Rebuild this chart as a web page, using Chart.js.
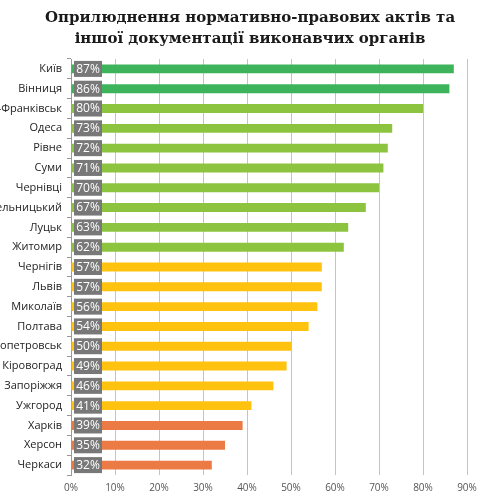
<!DOCTYPE html>
<html><head><meta charset="utf-8">
<script src="https://cdn.jsdelivr.net/npm/chart.js@4/dist/chart.umd.min.js"></script>
<style>html,body{margin:0;padding:0;background:#fff}#w{width:500px;height:500px}</style>
</head><body><div id="w"><canvas id="c"></canvas></div>
<script>
const titleLines = ['Оприлюднення нормативно-правових актів та', 'іншої документації виконавчих органів'];
const cities = ['Київ','Вінниця','Івано-Франківськ','Одеса','Рівне','Суми','Чернівці','Хмельницький','Луцьк','Житомир','Чернігів','Львів','Миколаїв','Полтава','Дніпропетровськ','Кіровоград','Запоріжжя','Ужгород','Харків','Херсон','Черкаси'];
const values = [87,86,80,73,72,71,70,67,63,62,57,57,56,54,50,49,46,41,39,35,32];
const tiers = ['top','top','high','high','high','high','high','high','high','high','mid','mid','mid','mid','mid','mid','mid','mid','low','low','low'];
const xTicks = [0,10,20,30,40,50,60,70,80,90];

const tierColors = {top:'#3db45c', high:'#8cc43f', mid:'#ffc20e', low:'#ec7a45'};

const valueBoxes = {
  id:'valueBoxes',
  afterDatasetsDraw(chart){
    const ctx = chart.ctx;
    const meta = chart.getDatasetMeta(0);
    const left = chart.chartArea.left;
    ctx.save();
    meta.data.forEach((el,i)=>{
      const y = el.y;
      ctx.fillStyle = '#787878';
      ctx.fillRect(left+3, y-8, 28, 16);
      ctx.fillStyle = '#ffffff';
      ctx.font = '12px "Open Sans"';
      ctx.textAlign = 'center';
      ctx.textBaseline = 'middle';
      ctx.fillText(values[i] + '%', left+17, y+0.5);
    });
    ctx.restore();
  }
};

new Chart(document.getElementById('c'), {
  type:'bar',
  data:{
    labels: cities,
    datasets:[{
      data: values,
      backgroundColor: tiers.map(t=>tierColors[t]),
      barPercentage: 0.45,
      categoryPercentage: 1.0
    }]
  },
  options:{
    indexAxis:'y',
    responsive:true,
    maintainAspectRatio:false,
    animation:false,
    layout:{padding:{left:0,right:0,top:0,bottom:0}},
    plugins:{
      legend:{display:false},
      tooltip:{enabled:false},
      title:{
        display:true,
        text:titleLines,
        color:'#1a1a1a',
        font:{family:'"DejaVu Serif"', size:15, weight:'bold', lineHeight:1.4},
        padding:{top:8,bottom:9}
      }
    },
    scales:{
      x:{
        min:0, max:97.5,
        afterBuildTicks(scale){ scale.ticks = xTicks.map(v=>({value:v})); },
        afterFit(scale){ scale.height = 25; },
        grid:{color:'#c4c4c4', drawTicks:false, lineWidth:1},
        border:{display:false},
        ticks:{color:'#555', font:{family:'"Open Sans"', size:10}, padding:7, callback:v=>v+'%'}
      },
      y:{
        afterFit(scale){ scale.width = 71; },
        grid:{drawOnChartArea:false, color:'#999', tickLength:4, offset:true},
        border:{display:true, color:'#9a9a9a'},
        ticks:{color:'#222', font:{family:'"Open Sans"', size:11}, padding:5}
      }
    }
  },
  plugins:[valueBoxes]
});
</script></body></html>
